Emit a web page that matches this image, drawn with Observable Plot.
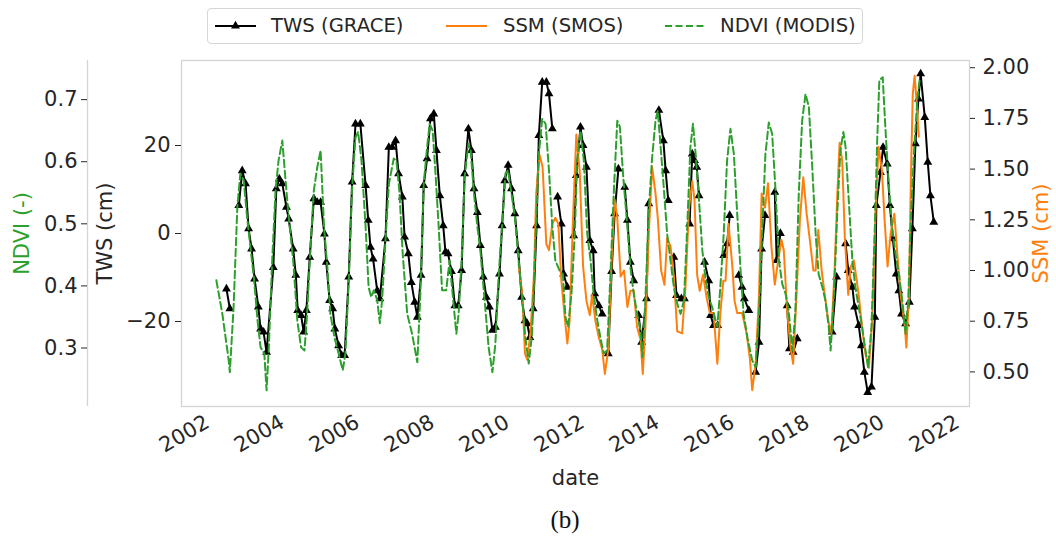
<!DOCTYPE html>
<html><head><meta charset="utf-8">
<script src="https://cdn.jsdelivr.net/npm/d3@7"></script>
<script src="https://cdn.jsdelivr.net/npm/@observablehq/plot@0.6"></script>
<style>
body{margin:0;background:#fff;font-family:"DejaVu Sans",sans-serif;}
#wrap{position:relative;width:1056px;height:539px;overflow:hidden;background:#fff;}
#wrap svg.plot{position:absolute;left:0;top:0;}
#legend{position:absolute;left:207px;top:8px;width:656px;height:36px;border:1.3px solid #d6d6d6;border-radius:4px;box-sizing:border-box;background:#fff;}
.sw{position:absolute;top:0;}
.lt{position:absolute;top:0;height:34px;line-height:34px;font-size:19.6px;color:#262626;white-space:nowrap;}
#caption{position:absolute;left:515px;width:100px;top:506px;text-align:center;font-family:"Liberation Serif","DejaVu Serif",serif;font-size:25px;color:#111;}
</style></head><body>
<div id="wrap">
  <div id="legend"></div>
  <div id="caption"></div>
</div>
<script>
// ---------- data (decimal years) ----------
const twsYear = [
 2002.40,2002.49,2002.60,2002.73,2002.82,2002.91,2002.99,2003.07,2003.15,2003.25,
 2003.31,2003.39,2003.47,2003.65,2003.73,2003.81,2003.89,2004.00,2004.06,2004.18,
 2004.25,2004.30,2004.39,2004.46,2004.53,2004.62,2004.73,2004.82,2004.91,2005.01,
 2005.06,2005.15,2005.23,2005.29,2005.39,2005.47,2005.55,2005.66,2005.75,2005.84,
 2005.97,2006.11,2006.18,2006.24,2006.31,2006.42,2006.49,2006.64,2006.73,2006.82,
 2006.91,2006.99,2007.09,2007.15,2007.25,2007.33,2007.42,2007.49,2007.59,2007.66,
 2007.75,2007.84,2007.93,2008.00,2008.09,2008.18,2008.24,2008.31,2008.40,2008.49,
 2008.58,2008.67,2008.75,2008.85,2008.93,2009.00,2009.09,2009.17,2009.25,2009.33,
 2009.41,2009.49,2009.57,2009.68,2009.75,2009.82,2009.91,2010.00,2010.09,2010.18,
 2010.27,2010.36,2010.42,2010.49,2010.58,2010.67,2010.73,2010.82,2010.93,2011.00,
 2011.09,2011.16,2011.23,2011.33,2011.39,2011.49,2011.58,2011.66,2011.73,2011.84,
 2011.91,2012.00,2012.09,2012.18,2012.22,2012.33,2012.42,2012.50,2012.58,2012.67,
 2012.75,2012.85,2012.93,2013.02,2013.09,2013.17,2013.26,2013.32,2013.39,2013.47,
 2013.60,2013.66,2013.80,2013.93,2014.05,2014.11,2014.18,2014.25,2014.33,2014.40,
 2014.53,2014.61,2014.68,2014.75,2014.82,2014.88,2014.94,2015.00,2015.08,2015.15,
 2015.26,2015.31,2015.39,2015.50,2015.58,2015.66,2015.75,2015.82,2015.94,2016.06,
 2016.15,2016.21,2016.33,2016.42,2016.51,2016.60,2016.67,2016.76,2016.89,2017.02,
 2017.07,2017.17,2017.26,2017.35,2017.41,2017.51,2017.62,2018.00,2018.55,2018.67,
 2018.79,2018.91,2018.98,2019.09,2019.15,2019.26,2019.33,2019.41,2019.50,2019.60,
 2019.69,2019.73,2019.84,2019.91,2020.02,2020.09,2020.17,2020.26,2020.33,2020.40,
 2020.51,2020.61,2020.69,2020.77,2020.85,2020.91,2021.02,2021.10,2021.17,2021.26
];
const twsValue = [
 -12.6,-17.1,null,6.4,14.3,11.3,1.1,-3.5,-10.3,-16.7,
 -21.7,-22.4,-27.0,-7.7,10.2,12.4,11.3,6.0,3.3,-3.5,
 -9.5,-17.5,-18.6,-22.4,-17.5,-5.4,7.9,7.1,7.1,-0.1,
 -6.5,-15.2,-17.1,-21.7,-25.5,-27.7,-27.7,-9.9,11.7,24.9,
 24.9,10.9,3.0,-3.1,-5.8,-13.0,-14.8,-1.2,19.6,19.6,
 21.1,13.6,8.3,-0.8,-4.6,-11.1,-15.6,-19.0,-9.5,10.9,
 17.0,26.1,27.2,18.9,8.6,1.8,-4.2,-4.6,-8.6,-16.4,
 -16.4,-8.4,13.6,23.8,18.9,10.2,4.8,-2.7,-9.9,-14.5,
 -16.7,-22.0,-21.3,-9.2,1.8,12.0,15.5,10.2,4.5,-3.9,
 -14.5,-19.8,-20.5,-23.6,-17.1,1.8,22.3,34.4,34.4,31.8,
 23.8,null,8.3,2.2,-9.2,-12.2,null,-0.5,13.2,24.2,
 20.0,15.1,-1.6,-3.9,-13.7,-16.4,-18.3,null,-27.3,-8.6,
 4.5,14.7,null,10.5,3.0,-6.5,-10.7,null,-18.6,-24.7,
 -14.8,6.8,null,28.0,21.1,14.3,7.5,null,-5.4,-14.1,
 -14.8,-14.8,null,2.2,18.1,16.6,15.1,8.6,null,-6.5,
 -10.7,-18.6,-20.9,-20.9,null,-5.0,-2.3,4.1,null,-9.5,
 -12.2,-14.8,-17.5,null,-31.5,-24.7,-3.5,4.1,null,9.4,
 -6.1,0.0,null,-16.4,-26.2,-27.0,-23.9,null,-22.4,-9.9,
 null,-2.3,-8.4,-12.2,-16.7,-20.9,-25.5,-31.5,-36.1,-34.9,
 -19.0,6.4,13.9,19.6,15.8,6.4,-1.2,-9.2,-13.0,-18.3,
 -20.5,-15.6,1.1,20.4,30.6,36.3,26.4,16.2,8.6,2.6
];
const ssmYear = [
 2010.19,2010.29,2010.36,2010.42,2010.51,2010.60,2010.66,2010.75,2010.83,2010.93,
 2011.00,2011.09,2011.17,2011.25,2011.33,2011.42,2011.49,2011.55,2011.64,2011.73,
 2011.82,2011.91,2012.00,2012.09,2012.15,2012.24,2012.33,2012.42,2012.49,2012.58,
 2012.67,2012.75,2012.82,2012.91,2013.00,2013.09,2013.17,2013.26,2013.35,2013.44,
 2013.50,2013.57,2013.66,2013.75,2013.84,2013.90,2013.99,2014.08,2014.15,2014.24,
 2014.33,2014.42,2014.55,2014.64,2014.73,2014.82,2014.88,2014.95,2015.02,2015.11,
 2015.20,2015.29,2015.39,2015.49,2015.57,2015.65,2015.71,2015.79,2015.89,2015.95,
 2016.02,2016.15,2016.27,2016.36,2016.42,2016.51,2016.60,2016.67,2016.76,2016.84,
 2016.93,2017.02,2017.11,2017.20,2017.26,2017.35,2017.44,2017.51,2017.60,2017.69,
 2017.78,2017.87,2017.95,2018.05,2018.11,2018.18,2018.27,2018.36,2018.45,2018.53,
 2018.62,2018.69,2018.75,2018.82,2018.89,2018.98,2019.05,2019.13,2019.26,2019.35,
 2019.44,2019.53,2019.62,2019.71,2019.79,2019.88,2019.95,2020.03,2020.11,2020.21,
 2020.29,2020.38,2020.49,2020.53,2020.60,2020.65,2020.70,2020.75,2020.82,2020.86
];
const ssmValue = [
 1.03,0.88,0.59,0.56,0.70,0.98,1.38,1.57,1.51,1.13,
 1.10,1.23,1.26,1.23,0.95,0.77,0.64,0.75,1.25,1.67,
 1.49,1.02,0.85,0.78,0.88,0.75,0.67,0.61,0.49,0.61,
 1.05,1.35,1.26,0.97,1.00,0.82,0.90,0.90,0.72,0.66,
 0.49,0.72,1.18,1.51,1.38,1.26,1.00,0.93,1.16,1.12,
 0.97,0.70,0.69,0.92,1.30,1.44,1.35,0.98,0.90,0.98,
 0.87,0.79,0.79,0.54,0.79,0.95,0.95,1.23,1.02,0.85,
 0.79,0.79,0.69,0.56,0.41,0.54,0.88,1.38,1.31,1.43,
 1.12,0.93,1.05,1.15,1.10,0.80,0.62,0.54,0.88,1.25,
 1.46,1.28,1.16,1.00,1.00,1.20,1.00,0.87,0.75,0.69,
 1.02,1.38,1.63,1.54,1.16,0.88,1.02,1.05,0.88,0.72,
 0.59,0.52,0.75,1.30,1.61,1.49,1.25,1.02,1.18,1.28,
 1.08,0.88,0.72,0.62,0.88,1.46,1.87,1.96,1.79,1.66
];
const ndviYear = [
 2002.13,2002.29,2002.46,2002.49,2002.59,2002.69,2002.77,2002.86,2002.95,2003.04,
 2003.13,2003.23,2003.31,2003.41,2003.47,2003.53,2003.62,2003.71,2003.79,2003.89,
 2003.97,2004.06,2004.18,2004.29,2004.39,2004.48,2004.55,2004.64,2004.73,2004.82,
 2004.91,2005.00,2005.09,2005.17,2005.28,2005.39,2005.50,2005.57,2005.66,2005.75,
 2005.84,2005.91,2006.00,2006.11,2006.19,2006.26,2006.33,2006.42,2006.49,2006.55,
 2006.64,2006.73,2006.86,2006.93,2007.01,2007.10,2007.22,2007.35,2007.49,2007.57,
 2007.66,2007.75,2007.82,2007.90,2007.97,2008.06,2008.15,2008.26,2008.35,2008.43,
 2008.53,2008.59,2008.67,2008.75,2008.85,2008.91,2009.00,2009.09,2009.17,2009.26,
 2009.39,2009.49,2009.57,2009.66,2009.75,2009.84,2009.91,2010.00,2010.09,2010.19,
 2010.29,2010.37,2010.46,2010.55,2010.64,2010.73,2010.82,2010.91,2011.00,2011.09,
 2011.17,2011.28,2011.37,2011.44,2011.51,2011.60,2011.69,2011.75,2011.84,2011.93,
 2012.02,2012.11,2012.19,2012.29,2012.37,2012.46,2012.55,2012.64,2012.73,2012.82,
 2012.89,2012.98,2013.09,2013.17,2013.26,2013.35,2013.44,2013.49,2013.57,2013.66,
 2013.75,2013.84,2013.90,2013.97,2014.06,2014.15,2014.24,2014.33,2014.42,2014.51,
 2014.60,2014.69,2014.77,2014.84,2014.91,2015.00,2015.09,2015.17,2015.26,2015.35,
 2015.49,2015.57,2015.66,2015.75,2015.84,2015.93,2016.02,2016.11,2016.19,2016.29,
 2016.42,2016.51,2016.60,2016.69,2016.77,2016.86,2016.95,2017.04,2017.13,2017.22,
 2017.31,2017.39,2017.49,2017.57,2017.66,2017.75,2017.84,2017.93,2018.02,2018.11,
 2018.19,2018.29,2018.37,2018.46,2018.51,2018.60,2018.69,2018.77,2018.85,2018.91,
 2019.00,2019.09,2019.17,2019.26,2019.35,2019.44,2019.51,2019.60,2019.69,2019.75,
 2019.81,2019.90,2019.97,2020.06,2020.15,2020.24,2020.33,2020.42,2020.51,2020.58,
 2020.64,2020.73,2020.82,2020.88
];
const ndviValue = [
 0.409,0.355,0.280,0.261,0.366,0.527,0.581,0.570,0.511,0.462,
 0.414,0.344,0.301,0.291,0.232,0.301,0.441,0.554,0.602,0.634,
 0.575,0.511,0.441,0.344,0.301,0.296,0.355,0.462,0.554,0.591,
 0.618,0.495,0.430,0.355,0.317,0.291,0.264,0.291,0.409,0.559,
 0.639,0.648,0.602,0.495,0.398,0.382,0.393,0.377,0.340,0.377,
 0.473,0.564,0.605,0.602,0.554,0.452,0.355,0.323,0.277,0.387,
 0.564,0.623,0.661,0.650,0.586,0.495,0.393,0.393,0.441,0.387,
 0.323,0.355,0.441,0.575,0.629,0.618,0.548,0.495,0.457,0.393,
 0.301,0.261,0.307,0.419,0.500,0.581,0.586,0.548,0.511,0.441,
 0.377,0.317,0.275,0.323,0.473,0.613,0.669,0.661,0.586,0.495,
 0.441,0.425,0.419,0.350,0.334,0.387,0.484,0.602,0.650,0.602,
 0.484,0.441,0.387,0.344,0.317,0.291,0.296,0.419,0.554,0.666,
 0.656,0.575,0.495,0.430,0.387,0.355,0.328,0.285,0.377,0.521,
 0.607,0.666,0.682,0.629,0.559,0.484,0.441,0.398,0.371,0.355,
 0.377,0.500,0.623,0.661,0.613,0.538,0.457,0.414,0.382,0.366,
 0.334,0.398,0.484,0.602,0.653,0.613,0.516,0.425,0.355,0.317,
 0.280,0.269,0.355,0.495,0.612,0.663,0.645,0.554,0.441,0.403,
 0.387,0.360,0.296,0.360,0.548,0.666,0.709,0.688,0.591,0.484,
 0.419,0.398,0.377,0.334,0.296,0.387,0.521,0.618,0.648,0.623,
 0.532,0.441,0.398,0.366,0.334,0.296,0.269,0.334,0.495,0.629,
 0.731,0.736,0.656,0.564,0.495,0.452,0.419,0.377,0.323,0.377,
 0.495,0.613,0.699,0.731
];

// axis ranges and ticks
const xRange = [2001.2, 2022.213];
const xTickYears = [2002,2004,2006,2008,2010,2012,2014,2016,2018,2020,2022];
const twsRange = [-39.32, 39.32];
const twsTicks = [-20, 0, 20];
const ndviRange = [0.2058, 0.763];
const ndviTicks = [0.3, 0.4, 0.5, 0.6, 0.7];
const ssmRange = [0.3294, 2.0355];
const ssmTicks = [0.50, 0.75, 1.00, 1.25, 1.50, 1.75, 2.00];

const seriesNames = ["TWS (GRACE)", "SSM (SMOS)", "NDVI (MODIS)"];
const seriesColors = ["#000000", "#ff7f0e", "#2ca02c"];
const axisTitles = {tws: "TWS (cm)", ndvi: "NDVI (-)", ssm: "SSM (cm)", x: "date"};
const captionText = "(b)";

// ---------- helpers ----------
const toDate = y => { const yr = Math.floor(y); const a = Date.UTC(yr,0,1), b = Date.UTC(yr+1,0,1); return new Date(a + (y - yr) * (b - a)); };
const ndviToTws = d3.scaleLinear(ndviRange, twsRange);
const ssmToTws = d3.scaleLinear(ssmRange, twsRange);
const fmtMinus = d => d < 0 ? "\u2212" + Math.abs(d) : String(d);

const tws = twsYear.map((y, i) => ({date: toDate(y), v: twsValue[i]}));
const ssm = ssmYear.map((y, i) => ({date: toDate(y), v: ssmToTws(ssmValue[i])}));
const ndvi = ndviYear.map((y, i) => ({date: toDate(y), v: ndviToTws(ndviValue[i])}));

const txt = "#262626";
const plot = Plot.plot({
  width: 1056, height: 539,
  marginLeft: 181, marginRight: 87, marginTop: 60, marginBottom: 133,
  style: {fontFamily: "'DejaVu Sans', sans-serif", fontSize: "21px", color: txt, background: "transparent", overflow: "visible"},
  x: {type: "utc", domain: xRange.map(toDate)},
  y: {domain: twsRange},
  marks: [
    Plot.frame({stroke: "#d4d4d4", strokeWidth: 1.3}),
    Plot.ruleX([toDate(xRange[0])], {dx: -94, stroke: "#d4d4d4", strokeWidth: 1.3}),
    Plot.axisX(xTickYears.map(toDate), {tickFormat: d => String(d.getUTCFullYear()), tickRotate: -30, tickSize: 0, tickPadding: 14, dx: -4, fontSize: 21, label: null}),
    Plot.axisY(twsTicks, {anchor: "left", tickSize: 6, tickPadding: 5, tickFormat: fmtMinus, fontSize: 21, label: null}),
    Plot.axisY(ndviTicks.map(ndviToTws), {anchor: "left", dx: -94, tickSize: 6, tickPadding: 4, tickFormat: d => ndviToTws.invert(d).toFixed(1), fontSize: 21, label: null}),
    Plot.axisY(ssmTicks.map(ssmToTws), {anchor: "right", tickSize: 5, tickPadding: 8, tickFormat: d => ssmToTws.invert(d).toFixed(2), fontSize: 21, label: null}),
    Plot.text([axisTitles.tws], {frameAnchor: "left", dx: -76, rotate: -90, textAnchor: "middle", fontSize: 21, fill: txt}),
    Plot.text([axisTitles.ndvi], {frameAnchor: "left", dx: -159, rotate: -90, textAnchor: "middle", fontSize: 21, fill: seriesColors[2]}),
    Plot.text([axisTitles.ssm], {frameAnchor: "right", dx: 72, rotate: -90, textAnchor: "middle", fontSize: 21, fill: seriesColors[1]}),
    Plot.text([axisTitles.x], {frameAnchor: "bottom", dy: 78, fontSize: 21, fill: txt}),
    Plot.line(tws, {x: "date", y: "v", stroke: seriesColors[0], strokeWidth: 2}),
    Plot.dot(tws.filter(d => d.v != null), {x: "date", y: "v", symbol: "triangle", r: 3.3, fill: seriesColors[0], stroke: "none"}),
    Plot.line(ssm, {x: "date", y: "v", stroke: seriesColors[1], strokeWidth: 2}),
    Plot.line(ndvi, {x: "date", y: "v", stroke: seriesColors[2], strokeWidth: 2, strokeDasharray: "7.5,3.5"})
  ]
});
plot.classList.add("plot");
document.getElementById("wrap").prepend(plot);

// ---------- legend ----------
const legend = document.getElementById("legend");
const items = [
  {sw: 6, tx: 63, kind: "marker"},
  {sw: 237, tx: 295, kind: "solid"},
  {sw: 456, tx: 512, kind: "dash"}
];
items.forEach((it, i) => {
  const ns = "http://www.w3.org/2000/svg";
  const svg = document.createElementNS(ns, "svg");
  svg.setAttribute("width", 44); svg.setAttribute("height", 34);
  svg.setAttribute("class", "sw");
  svg.style.left = it.sw + "px";
  const ln = document.createElementNS(ns, "line");
  ln.setAttribute("x1", 1); ln.setAttribute("x2", 42); ln.setAttribute("y1", 17); ln.setAttribute("y2", 17);
  ln.setAttribute("stroke", seriesColors[i]); ln.setAttribute("stroke-width", 2);
  if (it.kind === "dash") ln.setAttribute("stroke-dasharray", "7,3.5");
  svg.appendChild(ln);
  if (it.kind === "marker") {
    const p = document.createElementNS(ns, "path");
    p.setAttribute("d", d3.symbol(d3.symbolTriangle, Math.PI * 3.3 * 3.3)());
    p.setAttribute("transform", "translate(21.5,17)");
    p.setAttribute("fill", seriesColors[i]);
    svg.appendChild(p);
  }
  legend.appendChild(svg);
  const t = document.createElement("div");
  t.className = "lt"; t.style.left = it.tx + "px"; t.textContent = seriesNames[i];
  legend.appendChild(t);
});
document.getElementById("caption").textContent = captionText;
</script>
</body></html>
